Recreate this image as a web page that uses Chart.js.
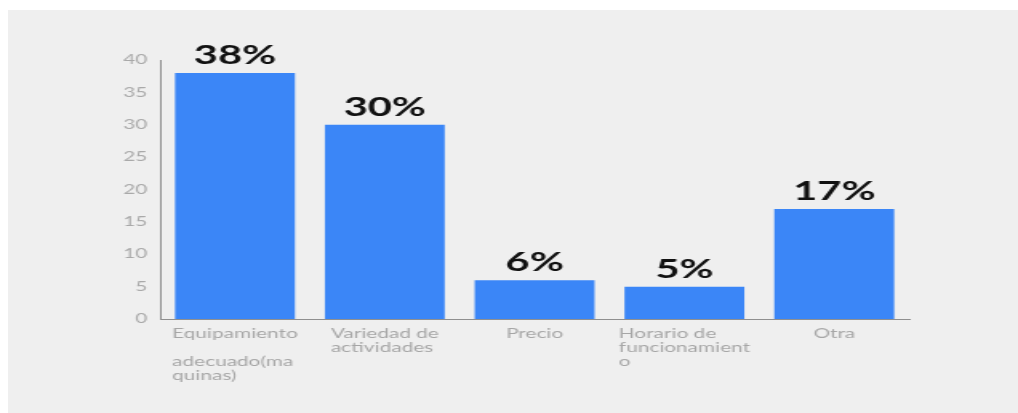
<!DOCTYPE html>
<html lang="es">
<head>
<meta charset="UTF-8">
<title>Motivos</title>
<script src="https://cdn.jsdelivr.net/npm/chart.js"></script>
<style>
    html, body { margin: 0; padding: 0; background: #ffffff; }
    body { width: 1018px; height: 413px; position: relative; overflow: hidden; }
    #panel { position: absolute; left: 8px; top: 10px; right: 0; bottom: 0; background: #efefef; }
    /* the chart is laid out narrow and stretched sideways */
    #wrap { position: absolute; left: 0; top: 0; width: 636px; height: 413px;
            transform: scaleX(1.6006); transform-origin: 0 0; }
</style>
</head>
<body>
<div id="panel"></div>
<div id="wrap"><canvas id="chart"></canvas></div>
<script>
// categories (one array of lines per label) and values
var categorias = [
    ['Equipamiento', '', 'adecuado(ma', 'quinas)'],
    ['Variedad de', 'actividades'],
    ['Precio'],
    ['Horario de', 'funcionamient', 'o'],
    ['Otra']
];
var valores = [38, 30, 6, 5, 17];
var yTicks = [0, 5, 10, 15, 20, 25, 30, 35, 40];

var tickFont = { family: 'Lato', size: 13 };

// x labels drawn left-aligned inside a block centred on each bar
var leftLabels = {
    id: 'leftLabels',
    afterDraw(chart) {
        var ctx = chart.ctx;
        var x = chart.scales.x;
        ctx.save();
        ctx.font = tickFont.size + 'px ' + tickFont.family;
        ctx.fillStyle = '#a6a6a6';
        ctx.textAlign = 'left';
        ctx.textBaseline = 'top';
        categorias.forEach(function (lines, i) {
            var w = Math.max.apply(null, lines.map(function (l) { return ctx.measureText(l).width; }));
            var left = x.getPixelForTick(i) - w / 2;
            lines.forEach(function (l, j) {
                ctx.fillText(l, left, x.top + 8 + j * 14);
            });
        });
        ctx.restore();
    }
};

// percentage above each bar
var valueLabels = {
    id: 'valueLabels',
    afterDatasetsDraw(chart) {
        var ctx = chart.ctx;
        var meta = chart.getDatasetMeta(0);
        ctx.save();
        ctx.font = 'bold 26px Lato';
        ctx.fillStyle = '#111111';
        ctx.textAlign = 'center';
        ctx.textBaseline = 'alphabetic';
        meta.data.forEach(function (bar, i) {
            ctx.fillText(valores[i] + '%', bar.x, bar.y - 9);
        });
        ctx.restore();
    }
};

new Chart(document.getElementById('chart').getContext('2d'), {
    type: 'bar',
    data: {
        labels: categorias,
        datasets: [{
            data: valores,
            backgroundColor: '#3b86f7',
            borderWidth: 0,
            barPercentage: 0.8,
            categoryPercentage: 1
        }]
    },
    options: {
        responsive: true,
        maintainAspectRatio: false,
        animation: false,
        layout: { padding: { top: 60, right: 68, left: 0, bottom: 0 } },
        plugins: { legend: { display: false }, tooltip: { enabled: false } },
        scales: {
            x: {
                grid: { display: false, drawTicks: false },
                border: { display: true, color: '#8f8f8f', width: 1 },
                ticks: { color: 'transparent', font: tickFont },
                afterFit: function (s) { s.height = 94; }
            },
            y: {
                min: 0,
                max: 40,
                grid: { display: false, drawTicks: false },
                border: { display: true, color: '#8f8f8f', width: 1 },
                afterBuildTicks: function (s) { s.ticks = yTicks.map(function (v) { return { value: v }; }); },
                ticks: { color: '#a9a9a9', font: { family: 'Lato', size: 13 }, padding: 8 },
                afterFit: function (s) { s.width = 100; }
            }
        }
    },
    plugins: [leftLabels, valueLabels]
});
</script>
</body>
</html>
